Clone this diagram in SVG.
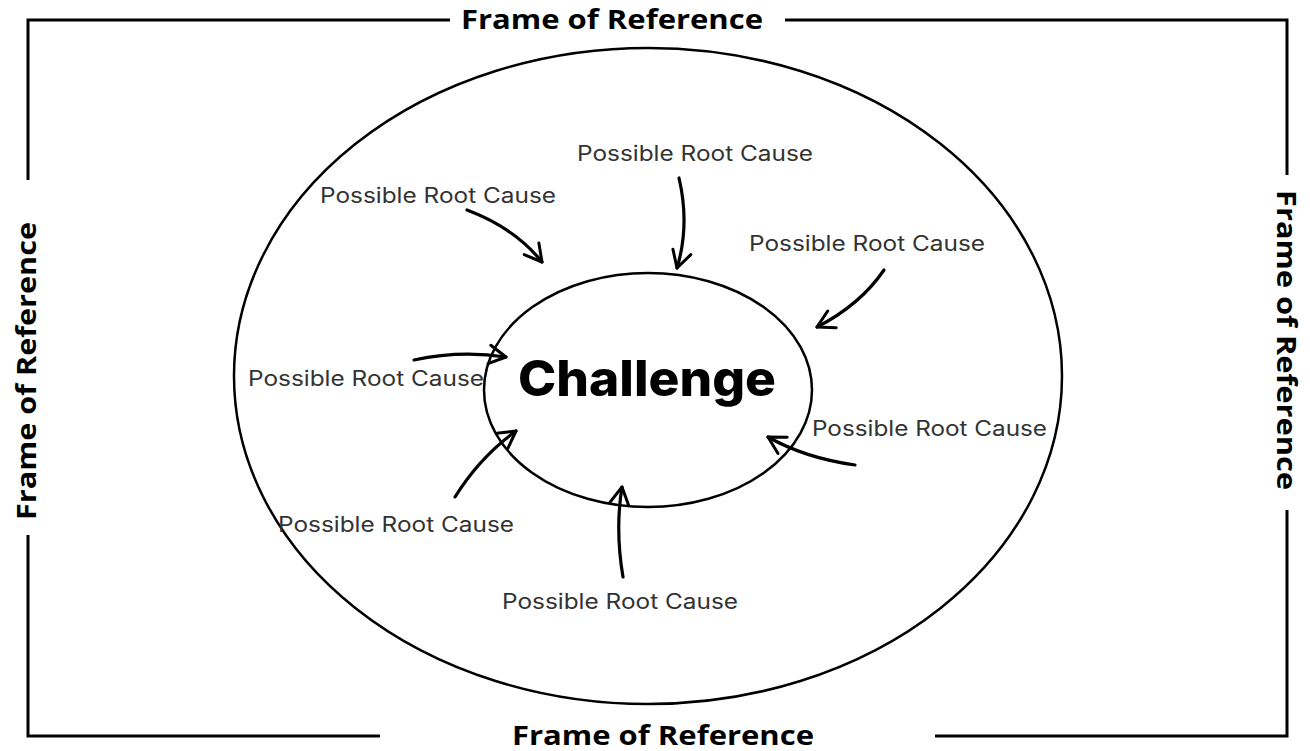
<svg xmlns="http://www.w3.org/2000/svg" width="1310" height="751" viewBox="0 0 1310 751">
<style>
.frame{fill:none;stroke:#000;stroke-width:3}
.ell{fill:none;stroke:#000;stroke-width:2.5}
.ft{font-family:"Open Sans","Liberation Sans",sans-serif;font-weight:bold;font-size:26px;fill:#000}
.lbl{font-family:"Inter","Noto Sans",sans-serif;font-size:21px;fill:#333}
.ch{font-family:"Inter","Noto Sans",sans-serif;font-weight:800;font-size:49px;fill:#000}
.arr{fill:none;stroke:#000;stroke-width:3.2;stroke-linecap:round;stroke-linejoin:round}
</style>
<defs>
<marker id="ah" viewBox="0 0 12 12" refX="10" refY="6" markerWidth="7" markerHeight="7" markerUnits="strokeWidth" orient="auto">
<polyline points="1,1 10,6 1,11" fill="none" stroke="#000" stroke-width="1.6" stroke-linecap="round" stroke-linejoin="round"/>
</marker>
</defs>
<rect width="1310" height="751" fill="#fff"/>
<g id="frame">
<polyline class="frame" points="450,20 28,20 28,180"/>
<polyline class="frame" points="785,20 1287,20 1287,175"/>
<polyline class="frame" points="28,535 28,736 380,736"/>
<polyline class="frame" points="935,736 1287,736 1287,510"/>
<text class="ft" x="612" y="29" text-anchor="middle" textLength="302" lengthAdjust="spacingAndGlyphs">Frame of Reference</text>
<text class="ft" x="663" y="745" text-anchor="middle" textLength="302" lengthAdjust="spacingAndGlyphs">Frame of Reference</text>
<text class="ft" transform="translate(36,371) rotate(-90)" text-anchor="middle" textLength="298" lengthAdjust="spacingAndGlyphs">Frame of Reference</text>
<text class="ft" transform="translate(1277,340) rotate(90)" text-anchor="middle" textLength="300" lengthAdjust="spacingAndGlyphs">Frame of Reference</text>
</g>
<g id="outer">
<ellipse class="ell" cx="648" cy="376" rx="414" ry="328"/>
</g>
<g id="challenge">
<ellipse class="ell" cx="648" cy="390" rx="164" ry="117"/>
<text class="ch" x="647" y="396" text-anchor="middle" textLength="258" lengthAdjust="spacingAndGlyphs">Challenge</text>
</g>
<g id="cause1"><text class="lbl" x="577" y="161" textLength="236" lengthAdjust="spacingAndGlyphs">Possible Root Cause</text></g>
<g id="cause2"><text class="lbl" x="320" y="203" textLength="236" lengthAdjust="spacingAndGlyphs">Possible Root Cause</text></g>
<g id="cause3"><text class="lbl" x="749" y="251" textLength="236" lengthAdjust="spacingAndGlyphs">Possible Root Cause</text></g>
<g id="cause4"><text class="lbl" x="248" y="386" textLength="236" lengthAdjust="spacingAndGlyphs">Possible Root Cause</text></g>
<g id="cause5"><text class="lbl" x="812" y="436" textLength="235" lengthAdjust="spacingAndGlyphs">Possible Root Cause</text></g>
<g id="cause6"><text class="lbl" x="278" y="532" textLength="236" lengthAdjust="spacingAndGlyphs">Possible Root Cause</text></g>
<g id="cause7"><text class="lbl" x="502" y="609" textLength="236" lengthAdjust="spacingAndGlyphs">Possible Root Cause</text></g>
<g id="connectors">
<path class="arr" marker-end="url(#ah)" d="M467,210 Q515,228 542,262"/>
<path class="arr" marker-end="url(#ah)" d="M679,178 Q690,225 677,268"/>
<path class="arr" marker-end="url(#ah)" d="M884,270 Q860,305 817,327"/>
<path class="arr" marker-end="url(#ah)" d="M414,360 Q460,350 506,357"/>
<path class="arr" marker-end="url(#ah)" d="M455,497 Q480,457 516,431"/>
<path class="arr" marker-end="url(#ah)" d="M623,577 Q615,530 622,487"/>
<path class="arr" marker-end="url(#ah)" d="M855,465 Q805,458 768,437"/>
</g>
</svg>
